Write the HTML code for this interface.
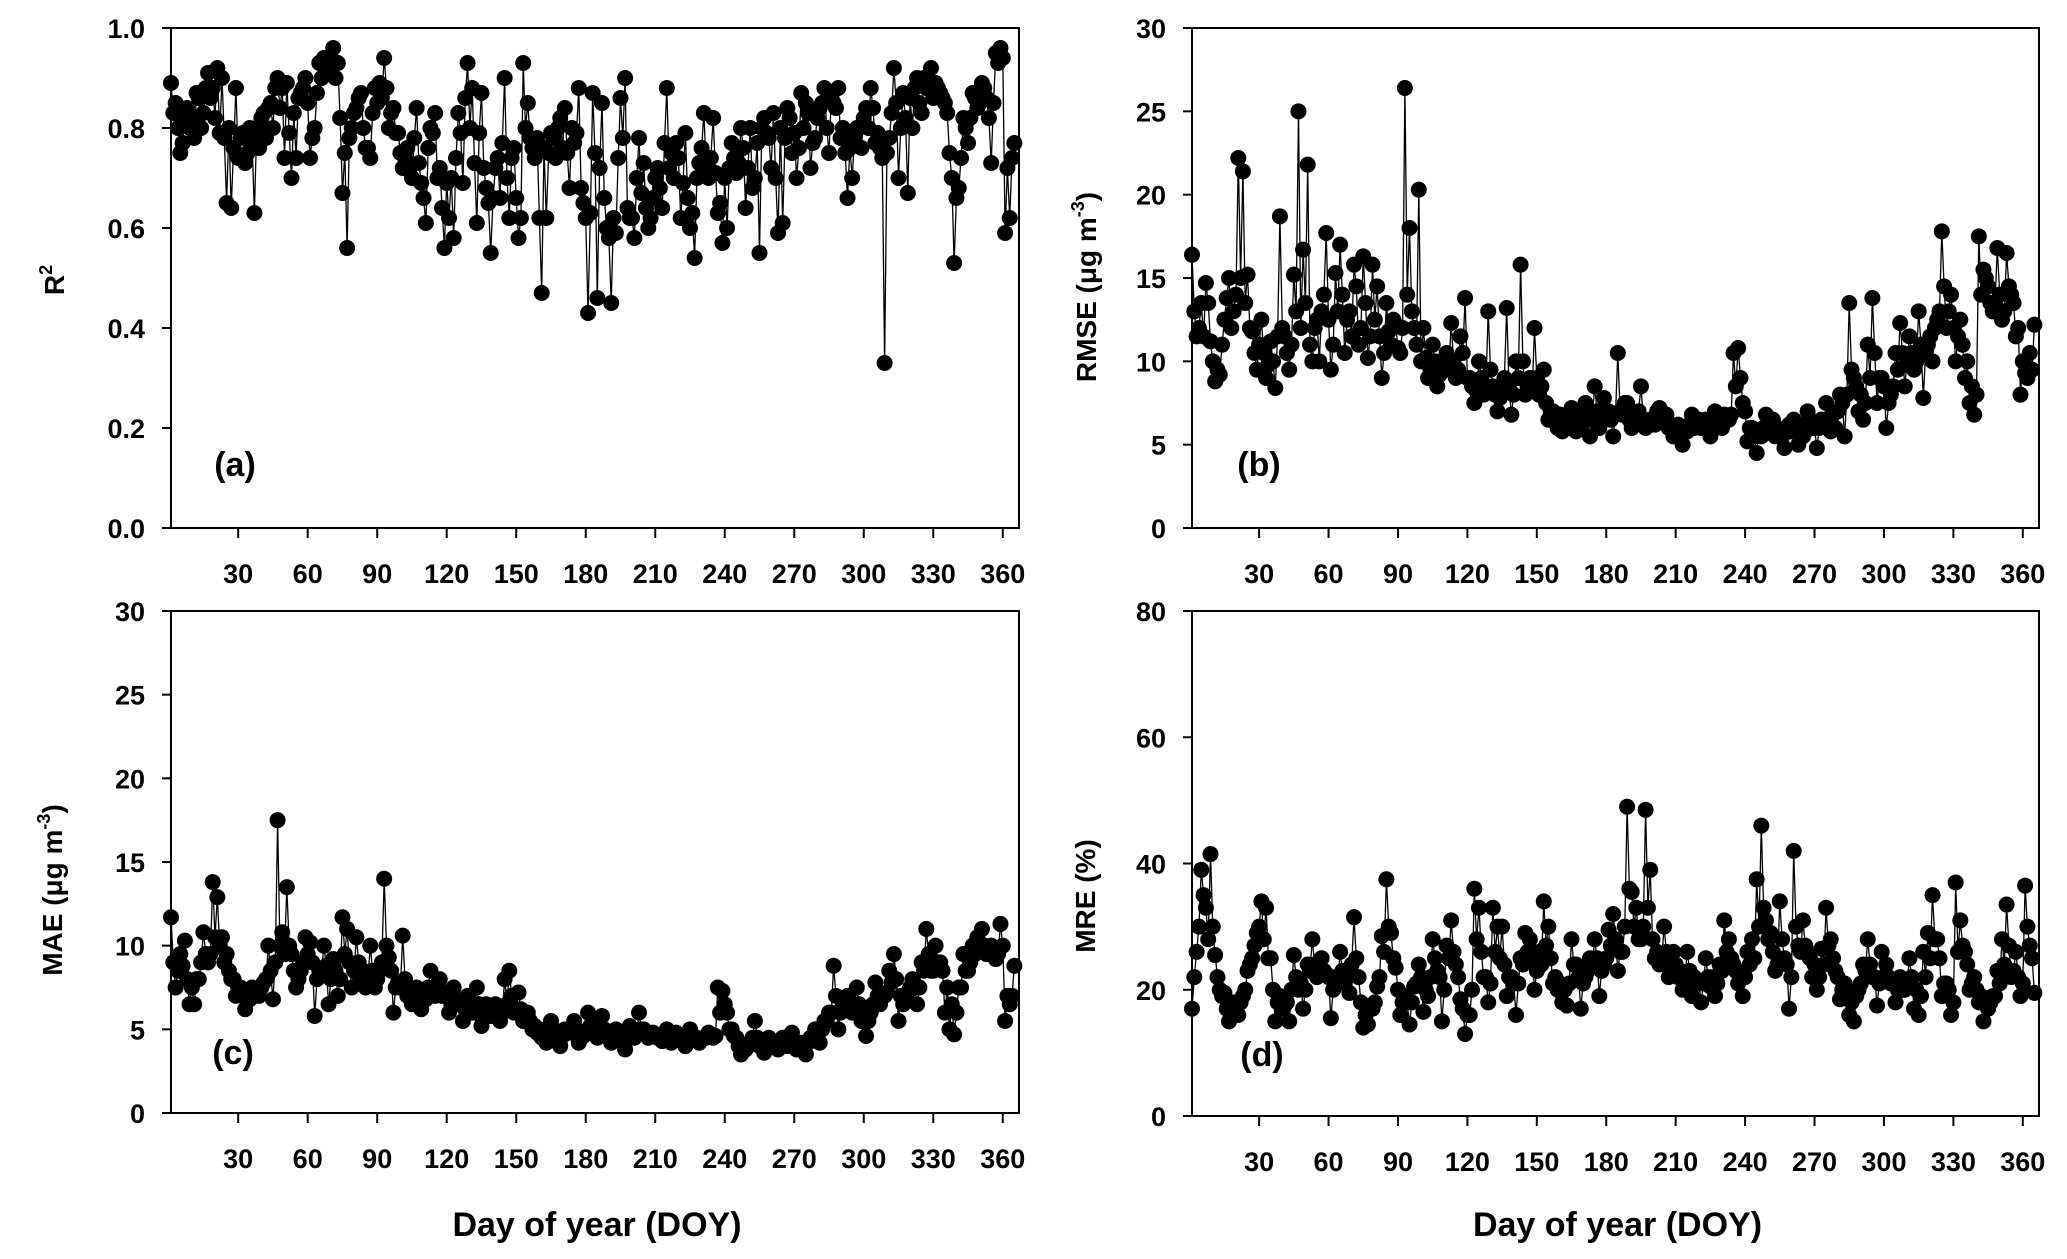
<!DOCTYPE html>
<html><head><meta charset="utf-8"><style>
html,body{margin:0;padding:0;background:#fff;}
svg{display:block;}
.tk{font-family:"Liberation Sans Narrow","Liberation Sans",sans-serif;font-weight:bold;font-size:27px;fill:#000;}
.ttl{font-family:"Liberation Sans",sans-serif;font-weight:bold;font-size:28px;fill:#000;}
.xt{font-family:"Liberation Sans Narrow","Liberation Sans",sans-serif;font-weight:bold;font-size:34px;fill:#000;}
</style></head><body>
<svg id="chart" width="2067" height="1259" viewBox="0 0 2067 1259" xmlns="http://www.w3.org/2000/svg"></svg>
<script>
const xTicks = [30,60,90,120,150,180,210,240,270,300,330,360];
const r2Ticks = ["0.0","0.2","0.4","0.6","0.8","1.0"];
const rmseTicks = ["0","5","10","15","20","25","30"];
const maeTicks = ["0","5","10","15","20","25","30"];
const mreTicks = ["0","20","40","60","80"];
// values on odd days (1,3,...,365) and even days (2,4,...,364)
const r2Values = [0.89,0.85,0.75,0.82,0.80,0.78,0.86,0.83,0.91,0.88,0.92,0.90,0.65,0.64,0.88,
0.78,0.73,0.80,0.63,0.76,0.83,0.84,0.80,0.90,0.88,0.89,0.70,0.74,0.87,0.90,
0.74,0.80,0.93,0.94,0.92,0.96,0.93,0.67,0.56,0.80,0.84,0.87,0.76,0.74,0.88,
0.89,0.94,0.80,0.84,0.79,0.72,0.76,0.70,0.84,0.69,0.61,0.80,0.83,0.72,0.56,
0.62,0.58,0.83,0.69,0.93,0.88,0.61,0.87,0.68,0.55,0.72,0.66,0.90,0.62,0.76,
0.58,0.93,0.85,0.76,0.78,0.47,0.62,0.79,0.74,0.82,0.84,0.68,0.77,0.88,0.65,
0.43,0.87,0.46,0.85,0.60,0.45,0.59,0.86,0.90,0.62,0.58,0.78,0.73,0.60,0.66,
0.72,0.64,0.88,0.75,0.77,0.62,0.79,0.60,0.54,0.73,0.83,0.70,0.82,0.63,0.57,
0.60,0.77,0.71,0.80,0.64,0.80,0.70,0.55,0.82,0.78,0.83,0.59,0.61,0.84,0.75,
0.70,0.87,0.85,0.72,0.78,0.84,0.88,0.75,0.85,0.88,0.80,0.66,0.70,0.80,0.76,
0.84,0.88,0.77,0.76,0.33,0.78,0.92,0.70,0.87,0.67,0.80,0.90,0.83,0.88,0.92,
0.89,0.87,0.85,0.75,0.53,0.68,0.82,0.77,0.87,0.84,0.89,0.86,0.73,0.95,0.96,
0.59,0.62,0.77];
const r2Even = [0.83,0.80,0.77,0.84,0.82,0.87,0.80,0.88,0.86,0.82,0.79,0.78,0.80,0.76,0.74,
0.79,0.75,0.77,0.80,0.82,0.78,0.85,0.88,0.84,0.74,0.79,0.83,0.86,0.88,0.85,
0.78,0.87,0.90,0.92,0.94,0.90,0.82,0.75,0.78,0.83,0.86,0.80,0.76,0.83,0.85,
0.86,0.88,0.83,0.79,0.75,0.74,0.72,0.78,0.73,0.66,0.76,0.79,0.70,0.64,0.69,
0.70,0.74,0.79,0.86,0.80,0.73,0.79,0.72,0.65,0.66,0.74,0.77,0.70,0.74,0.66,
0.62,0.80,0.78,0.74,0.62,0.76,0.75,0.78,0.80,0.76,0.75,0.80,0.79,0.68,0.62,
0.63,0.75,0.72,0.66,0.58,0.62,0.74,0.78,0.64,0.62,0.70,0.67,0.64,0.62,0.70,
0.68,0.77,0.72,0.70,0.74,0.69,0.66,0.63,0.70,0.76,0.72,0.74,0.71,0.65,0.70,
0.72,0.74,0.73,0.76,0.72,0.68,0.77,0.80,0.79,0.72,0.70,0.80,0.78,0.82,0.79,
0.76,0.80,0.83,0.77,0.82,0.85,0.80,0.86,0.84,0.78,0.75,0.76,0.78,0.80,0.82,
0.80,0.84,0.79,0.74,0.75,0.83,0.85,0.80,0.82,0.86,0.88,0.85,0.90,0.89,0.86,
0.88,0.86,0.83,0.70,0.66,0.74,0.80,0.82,0.86,0.85,0.88,0.82,0.85,0.93,0.94,
0.72,0.74];
const rmseValues = [16.4,11.5,13.5,14.7,11.2,8.8,9.2,12.5,15.0,13.0,22.2,21.4,15.2,11.8,9.5,
12.5,9.0,11.2,8.4,18.7,11.5,9.5,15.2,25.0,16.7,21.8,10.0,12.5,13.0,17.7,
9.5,15.3,17.0,10.5,13.0,15.8,11.0,16.3,10.2,15.8,14.5,9.0,13.5,11.0,12.2,
10.5,26.4,18.0,12.0,20.3,12.0,9.0,11.0,8.5,9.5,10.5,12.3,9.0,11.5,13.8,
9.0,7.5,10.0,8.0,13.0,8.5,7.0,8.5,13.2,6.8,10.0,15.8,8.0,9.0,12.0,
8.0,9.5,6.5,7.0,6.0,5.8,6.5,7.2,5.8,6.2,7.5,5.5,8.5,6.0,7.8,
7.0,5.5,10.5,6.8,7.5,6.0,6.5,8.5,6.0,6.5,6.2,7.2,6.5,6.0,5.5,
6.2,5.0,5.8,6.8,6.5,6.0,6.5,5.5,7.0,6.3,6.8,6.5,10.5,10.8,7.5,
5.2,6.0,4.5,5.5,6.8,6.0,5.5,5.8,4.8,6.2,6.5,5.0,5.5,7.0,6.0,
4.8,6.5,7.5,5.8,6.0,8.0,5.5,13.5,9.0,7.0,6.5,11.0,13.8,7.5,9.0,
6.0,8.0,10.5,12.3,8.5,11.5,9.5,13.0,7.8,11.0,10.0,12.5,17.8,12.0,14.0,
10.0,12.5,9.0,7.5,6.8,17.5,15.5,14.5,13.0,16.8,12.5,16.5,14.0,11.5,8.0,
9.3,10.5,12.2];
const rmseEven = [13.0,12.0,11.5,13.5,10.0,9.5,11.0,13.8,12.0,14.0,15.0,13.5,12.0,10.5,11.0,
10.5,9.8,10.0,11.5,12.0,10.5,11.0,13.0,12.0,13.5,11.0,12.0,10.0,14.0,12.5,
11.0,13.0,14.0,12.5,11.5,14.5,12.0,13.5,11.5,12.5,11.5,10.5,11.8,12.5,10.8,
12.0,14.0,13.0,11.0,10.0,10.2,9.5,10.0,9.2,9.8,9.5,10.0,9.5,10.5,9.0,
8.5,8.2,9.0,8.5,9.5,8.0,7.8,9.0,8.5,8.0,9.0,10.0,8.5,8.2,9.0,
8.5,7.5,7.0,6.5,6.8,6.2,6.0,6.5,6.8,7.0,6.5,6.8,7.0,6.5,7.0,
6.5,6.8,7.0,7.5,6.5,6.8,7.0,6.5,6.2,6.5,7.0,6.5,6.8,6.2,6.0,
6.0,5.8,6.2,6.0,6.5,6.3,6.0,6.2,6.5,6.0,6.5,6.8,8.5,9.0,7.0,
6.0,5.5,5.8,6.0,6.2,6.5,6.0,5.5,6.0,5.8,6.0,6.2,5.8,6.5,6.0,
6.0,6.2,6.5,6.8,7.0,7.5,8.0,9.5,8.5,8.0,7.5,9.0,10.5,9.0,8.5,
7.5,8.5,9.5,10.5,10.0,10.5,10.0,11.0,10.5,11.5,12.0,13.0,14.5,13.0,12.0,
11.5,11.0,10.0,8.5,8.0,14.0,15.0,13.5,13.5,14.0,13.0,14.5,13.5,12.0,10.0,
9.0,9.5];
const maeValues = [11.7,7.5,9.5,10.3,6.5,6.5,8.0,10.8,9.0,13.8,12.9,10.5,9.5,8.0,7.0,
7.5,6.2,6.8,7.3,7.0,7.8,10.0,6.8,17.5,10.8,13.5,9.5,7.5,8.5,10.5,
10.2,5.8,8.5,10.0,6.5,9.2,7.0,11.7,11.0,7.5,10.5,8.0,7.5,10.0,7.5,
8.5,14.0,9.3,6.0,7.8,10.6,7.0,6.5,7.5,6.2,6.8,8.5,7.0,8.0,7.2,
6.0,7.5,6.5,5.5,7.0,6.0,7.5,5.2,6.5,5.8,6.5,5.5,8.0,8.5,6.0,
7.2,5.5,6.0,5.0,4.8,4.5,4.2,5.5,4.5,4.0,5.0,4.8,5.5,4.2,4.6,
6.0,5.5,4.5,5.8,4.7,4.2,5.0,4.5,3.8,5.2,4.5,6.0,5.0,4.5,4.8,
4.5,4.3,5.0,4.2,4.8,4.5,4.0,5.0,4.5,4.2,4.5,4.8,4.5,7.5,7.3,
6.0,5.0,4.5,3.5,3.8,4.2,5.5,4.0,3.6,4.5,4.2,3.8,4.5,4.0,4.8,
3.8,4.2,3.5,4.5,5.0,4.2,5.5,6.0,8.8,5.0,6.5,7.0,6.0,7.5,5.5,
4.6,6.0,7.8,6.5,7.0,8.5,9.5,5.5,6.5,7.2,8.0,6.5,9.0,11.0,8.5,
10.0,9.0,6.0,5.0,4.7,7.5,9.5,8.5,10.0,10.5,11.0,9.5,10.0,9.2,11.3,
5.5,6.5,8.8];
const maeEven = [9.0,8.5,8.8,8.0,7.5,8.0,9.0,9.5,9.5,10.5,10.0,9.0,8.5,8.0,7.5,
7.0,7.0,7.5,7.2,7.5,8.0,8.5,9.0,10.0,9.5,10.0,8.5,8.0,9.0,9.5,
9.0,8.0,8.5,8.8,8.0,8.5,8.0,9.5,9.0,8.5,9.0,8.5,8.0,8.5,8.0,
9.0,10.0,8.5,7.5,7.5,8.0,7.2,7.0,7.0,6.8,7.5,7.5,7.2,7.0,7.0,
6.5,6.8,6.5,6.2,6.5,6.0,6.5,6.0,6.0,6.0,6.2,6.0,6.5,7.0,6.2,
6.2,6.0,5.5,5.2,5.0,4.8,4.8,5.0,4.8,4.6,4.8,5.0,5.0,4.8,4.8,
5.2,5.0,5.0,5.0,4.8,4.6,4.8,4.6,4.5,4.8,4.8,5.0,4.8,4.6,4.6,
4.6,4.5,4.6,4.4,4.5,4.4,4.3,4.6,4.5,4.4,4.5,4.6,4.6,6.0,6.5,
5.0,4.6,4.0,3.8,4.0,4.5,4.5,4.2,4.0,4.2,4.0,4.0,4.2,4.2,4.2,
4.0,4.0,4.2,4.5,4.8,5.0,5.5,6.0,7.0,6.0,6.2,6.5,6.5,6.5,6.0,
5.5,6.5,7.0,7.0,7.2,7.8,8.0,7.0,7.0,7.5,7.5,7.5,8.5,9.5,8.5,
9.0,8.5,7.5,6.5,6.0,7.5,8.5,9.0,9.5,10.0,10.0,9.5,9.8,9.5,10.0,
7.0,7.0];
const mreValues = [17.0,26.0,39.0,33.0,41.5,25.5,20.0,19.5,15.0,18.0,16.0,19.0,23.0,25.0,29.0,
34.0,33.0,25.0,15.0,19.0,17.5,15.0,25.5,20.0,17.0,24.0,28.0,22.0,25.0,22.5,
15.5,22.0,26.0,21.0,19.5,31.5,22.0,14.0,14.5,17.0,20.5,28.5,37.5,29.0,23.5,
16.0,19.0,14.5,20.5,24.0,16.5,19.0,28.0,23.0,15.0,27.0,31.0,24.0,18.5,13.0,
16.0,36.0,33.0,22.0,18.0,33.0,30.0,30.0,19.0,22.0,16.0,25.0,29.0,28.0,20.0,
26.0,34.0,30.0,21.0,20.0,18.0,17.5,28.0,24.0,17.0,22.0,25.0,28.0,19.0,24.0,
29.5,32.0,23.0,26.0,49.0,35.5,33.0,28.0,48.5,39.0,25.0,24.0,30.0,22.0,26.0,
22.0,20.0,26.0,19.0,21.0,18.0,25.0,20.5,19.0,24.0,31.0,28.0,24.0,21.0,19.0,
26.0,28.0,37.5,46.0,31.0,29.0,23.0,34.0,25.0,17.0,42.0,27.0,31.0,26.0,22.0,
20.0,26.5,33.0,28.0,23.0,18.5,21.0,16.0,15.0,20.0,24.0,28.0,22.0,17.5,26.0,
24.0,21.0,18.0,22.0,20.0,25.0,17.0,16.0,26.0,29.0,35.0,28.0,19.0,21.0,16.0,
37.0,31.0,26.0,20.0,22.0,18.0,15.0,17.0,19.0,23.0,28.0,33.5,22.0,26.0,19.0,
36.5,27.0,19.5];
const mreEven = [22.0,30.0,35.0,28.0,30.0,22.0,19.0,17.0,17.0,17.5,18.0,20.0,24.0,27.0,30.0,
28.0,25.0,20.0,18.0,17.0,18.0,20.0,22.0,21.0,20.0,23.0,24.0,24.0,23.0,22.0,
20.0,21.0,23.0,22.0,24.0,25.0,18.0,16.0,17.0,18.0,22.0,26.0,30.0,25.0,20.0,
18.0,18.0,18.0,21.0,22.0,20.0,22.0,25.0,22.0,20.0,25.0,26.0,22.0,17.0,16.0,
20.0,28.0,26.0,22.0,21.0,26.0,25.0,24.0,22.0,21.0,21.0,24.0,26.0,25.0,23.0,
24.0,27.0,25.0,22.0,21.0,20.0,21.0,24.0,22.0,21.0,23.0,24.0,25.0,23.0,25.0,
27.0,28.0,26.0,30.0,36.0,30.0,28.0,30.0,33.0,28.0,26.0,25.0,26.0,24.0,24.0,
23.0,22.0,23.0,22.0,21.0,21.0,22.0,22.0,21.0,23.0,26.0,25.0,23.0,22.0,22.0,
24.0,25.0,30.0,33.0,28.0,26.0,24.0,28.0,24.0,22.0,30.0,26.0,27.0,25.0,24.0,
22.0,24.0,27.0,25.0,22.0,20.0,19.0,18.0,19.0,21.0,23.0,24.0,22.0,21.0,22.0,
22.0,21.0,20.0,20.0,21.0,22.0,20.0,19.0,22.0,25.0,28.0,25.0,21.0,20.0,18.0,
26.0,27.0,24.0,21.0,20.0,19.0,18.0,18.0,19.0,21.0,24.0,27.0,23.0,22.0,21.0,
30.0,25.0];

const NS = "http://www.w3.org/2000/svg";
const svg = document.getElementById('chart');
function el(tag, attrs, parent){
  const e = document.createElementNS(NS, tag);
  for (const k in attrs) e.setAttribute(k, attrs[k]);
  (parent||svg).appendChild(e);
  return e;
}
function interleave(odd, even){
  const out = [];
  for (let i=0;i<odd.length;i++){
    out.push({d:1+2*i, v:odd[i]});
    if (i<even.length) out.push({d:2+2*i, v:even[i]});
  }
  return out;
}
function panel(cfg){
  const g = el('g', {});
  
  
  const L=cfg.L, R=cfg.R, T=cfg.T, B=cfg.B;
  const xs = d => L + (d-1)/(367-1)*(R-L);
  const ys = v => B - (v-cfg.ymin)/(cfg.ymax-cfg.ymin)*(B-T);
  const frame = el('rect', {x:L, y:T, width:R-L, height:B-T, fill:'none', stroke:'#000', 'stroke-width':2}, g);
  
  
  cfg.yticks.forEach(t=>{
    const y = ys(parseFloat(t));
    el('line', {x1:L-9, x2:L, y1:y, y2:y, stroke:'#000', 'stroke-width':2}, g);
    const tx = el('text', {x:L-26, y:y+10, 'text-anchor':'end', class:'tk'}, g);
    tx.textContent = t;
    
    
  });
  xTicks.forEach(t=>{
    const x = xs(t);
    el('line', {x1:x, x2:x, y1:B, y2:B+10, stroke:'#000', 'stroke-width':2}, g);
    const tx = el('text', {x:x, y:B+55, 'text-anchor':'middle', class:'tk'}, g);
    tx.textContent = t;
    
    
  });
  const data = interleave(cfg.odd, cfg.even);
  const pts = data.map(p=>xs(p.d).toFixed(1)+','+ys(p.v).toFixed(1)).join(' ');
  const line = el('polyline', {points:pts, fill:'none', stroke:'#000', 'stroke-width':1.3}, g);
  
  
  data.forEach(p=>{
    const c = el('circle', {cx:xs(p.d), cy:ys(p.v), r:8, fill:'#000'}, g);
    
    
  });
  const lab = el('text', {x:cfg.lx, y:cfg.ly, 'text-anchor':'middle', class:'xt'}, g);
  lab.textContent = cfg.letter;
  
  
  const yt = el('text', {transform:`translate(${cfg.tx},${cfg.ty}) rotate(-90)`, 'text-anchor':'middle', class:'ttl'}, g);
  yt.innerHTML = cfg.title;
  
  
  if (cfg.xtitle){
    const xt = el('text', {x:(L+R)/2+2, y:1236, 'text-anchor':'middle', class:'xt'}, g);
    xt.textContent = 'Day of year (DOY)';
    
    
  }
}
panel({name:'panel-a-r2', L:171, R:1019, T:28, B:528, ymin:0, ymax:1, yticks:r2Ticks, odd:r2Values, even:r2Even,
  letter:'(a)', lx:235, ly:476, tx:64, ty:280, title:'R<tspan dy="-12" font-size="18">2</tspan>'});
panel({name:'panel-b-rmse', L:1192, R:2039, T:28, B:528, ymin:0, ymax:30, yticks:rmseTicks, odd:rmseValues, even:rmseEven,
  letter:'(b)', lx:1259, ly:476, tx:1096, ty:287, title:'RMSE (μg m<tspan dy="-12" font-size="18">-3</tspan><tspan dy="12">)</tspan>'});
panel({name:'panel-c-mae', L:171, R:1019, T:611, B:1113, ymin:0, ymax:30, yticks:maeTicks, odd:maeValues, even:maeEven,
  letter:'(c)', lx:233, ly:1064, tx:62, ty:890, title:'MAE (μg m<tspan dy="-12" font-size="18">-3</tspan><tspan dy="12">)</tspan>', xtitle:true});
panel({name:'panel-d-mre', L:1192, R:2039, T:611, B:1116, ymin:0, ymax:80, yticks:mreTicks, odd:mreValues, even:mreEven,
  letter:'(d)', lx:1262, ly:1066, tx:1095, ty:896, title:'MRE (%)', xtitle:true});
</script>
</body></html>
